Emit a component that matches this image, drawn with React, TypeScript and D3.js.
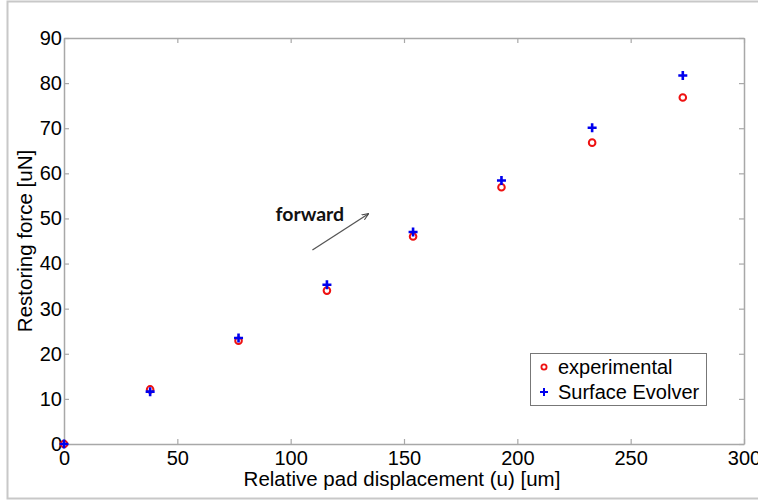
import React, { useEffect, useRef } from 'react';
import * as d3 from 'd3';

const displacement = [0, 38, 77, 116, 154, 193, 233, 273];
const experimental = [0, 12.1, 22.9, 34, 46, 56.9, 66.8, 76.8];
const surfaceEvolver = [0, 11.6, 23.5, 35.3, 47, 58.4, 70.1, 81.7];
const xTicks = [0, 50, 100, 150, 200, 250, 300];
const yTicks = [0, 10, 20, 30, 40, 50, 60, 70, 80, 90];
const legendLabels = ['experimental', 'Surface Evolver'];
// arrow annotation in data units: [x1, y1, x2, y2]
const forwardArrow = [109.6, 43.0, 134.2, 51.0];

const App = () => {
    const svgRef = useRef<SVGSVGElement>(null);
    const width = 758;
    const height = 502;

    useEffect(() => {
        const svg = d3.select(svgRef.current);
        svg.selectAll('*').remove();

        const margin = { top: 38, right: 14, bottom: 58, left: 64 };
        const innerWidth = width - margin.left - margin.right;
        const innerHeight = height - margin.top - margin.bottom;
        const axisColor = '#a8a8a8';
        const font = 'Arial, "Liberation Sans", sans-serif';

        // outer figure frame
        svg.append('rect')
            .attr('x', 7.5).attr('y', 1.5)
            .attr('width', width).attr('height', 497)
            .attr('fill', 'white')
            .attr('stroke', '#c8c8c8')
            .attr('stroke-width', 2);

        const g = svg.append('g')
            .attr('transform', `translate(${margin.left},${margin.top})`);

        const x = d3.scaleLinear().domain([0, 300]).range([0, innerWidth]);
        const y = d3.scaleLinear().domain([0, 90]).range([innerHeight, 0]);

        // axes box with inward ticks on all sides
        const styleAxis = (sel: any) => {
            sel.select('.domain').attr('stroke', axisColor).attr('stroke-width', 1.5);
            sel.selectAll('.tick line').attr('stroke', axisColor).attr('stroke-width', 1.2);
            sel.selectAll('text')
                .attr('fill', 'black')
                .style('font-family', font)
                .style('font-size', '20px');
        };

        g.append('g')
            .attr('transform', `translate(0,${innerHeight})`)
            .call(d3.axisBottom(x).tickValues(xTicks).tickSizeInner(-5).tickSizeOuter(0).tickPadding(7).tickFormat(d3.format('d')))
            .call(styleAxis);
        g.append('g')
            .call(d3.axisTop(x).tickValues(xTicks).tickSizeInner(-5).tickSizeOuter(0).tickFormat(() => ''))
            .call(styleAxis);
        g.append('g')
            .call(d3.axisLeft(y).tickValues(yTicks).tickSizeInner(-5).tickSizeOuter(0).tickPadding(2).tickFormat(d3.format('d')))
            .call(styleAxis);
        g.append('g')
            .attr('transform', `translate(${innerWidth},0)`)
            .call(d3.axisRight(y).tickValues(yTicks).tickSizeInner(-5).tickSizeOuter(0).tickFormat(() => ''))
            .call(styleAxis);

        // axis labels
        svg.append('text')
            .attr('x', 402)
            .attr('y', 486)
            .attr('text-anchor', 'middle')
            .style('font-family', font)
            .style('font-size', '20.5px')
            .text('Relative pad displacement (u) [um]');

        svg.append('text')
            .attr('transform', `translate(32,${margin.top + innerHeight / 2}) rotate(-90)`)
            .attr('text-anchor', 'middle')
            .style('font-family', font)
            .style('font-size', '20.5px')
            .text('Restoring force [uN]');

        // markers
        const points = displacement.map((d, i) => ({ x: d, exp: experimental[i], se: surfaceEvolver[i] }));

        g.selectAll('.exp')
            .data(points)
            .enter()
            .append('circle')
            .attr('class', 'exp')
            .attr('cx', d => x(d.x))
            .attr('cy', d => y(d.exp))
            .attr('r', 3.3)
            .attr('fill', 'none')
            .attr('stroke', '#ee1111')
            .attr('stroke-width', 2);

        g.selectAll('.se')
            .data(points)
            .enter()
            .append('path')
            .attr('class', 'se')
            .attr('d', d => {
                const cx = x(d.x), cy = y(d.se), s = 4.5;
                return `M${cx - s},${cy}H${cx + s}M${cx},${cy - s}V${cy + s}`;
            })
            .attr('stroke', '#0000ee')
            .attr('stroke-width', 2.6);

        // forward annotation
        svg.append('defs').append('marker')
            .attr('id', 'arrowhead')
            .attr('viewBox', '0 0 10 10')
            .attr('refX', 9).attr('refY', 5)
            .attr('markerWidth', 7).attr('markerHeight', 7)
            .attr('markerUnits', 'userSpaceOnUse')
            .attr('orient', 'auto')
            .append('path')
            .attr('d', 'M0,1L10,5L0,9')
            .attr('fill', 'none')
            .attr('stroke', '#444')
            .attr('stroke-width', 1.5);

        g.append('line')
            .attr('x1', x(forwardArrow[0])).attr('y1', y(forwardArrow[1]))
            .attr('x2', x(forwardArrow[2])).attr('y2', y(forwardArrow[3]))
            .attr('stroke', '#555')
            .attr('stroke-width', 1.3)
            .attr('marker-end', 'url(#arrowhead)');

        g.append('text')
            .attr('x', x(93.3))
            .attr('y', y(49.4))
            .style('font-family', 'Lato, "Open Sans", sans-serif')
            .style('font-weight', 'bold')
            .style('font-size', '19.5px')
            .attr('fill', '#111')
            .text('forward');

        // legend
        const legend = svg.append('g').attr('transform', 'translate(530,353)');
        legend.append('rect')
            .attr('x', 0.5).attr('y', 0.5)
            .attr('width', 176).attr('height', 52)
            .attr('fill', 'white')
            .attr('stroke', '#777')
            .attr('stroke-width', 1);

        legendLabels.forEach((label, i) => {
            const ly = 14 + i * 25;
            if (i === 0) {
                legend.append('circle')
                    .attr('cx', 14).attr('cy', ly)
                    .attr('r', 2.6)
                    .attr('fill', 'none')
                    .attr('stroke', '#ee1111')
                    .attr('stroke-width', 1.8);
            } else {
                legend.append('path')
                    .attr('d', `M10,${ly}H18M14,${ly - 4}V${ly + 4}`)
                    .attr('stroke', '#0000ee')
                    .attr('stroke-width', 2);
            }
            legend.append('text')
                .attr('x', 28)
                .attr('y', ly + 6.5)
                .style('font-family', font)
                .style('font-size', '20px')
                .text(label);
        });
    }, []);

    return (
        <svg ref={svgRef} width={width} height={height}
            style={{ position: 'absolute', left: 0, top: 0, background: 'white' }} />
    );
};

export default App;
